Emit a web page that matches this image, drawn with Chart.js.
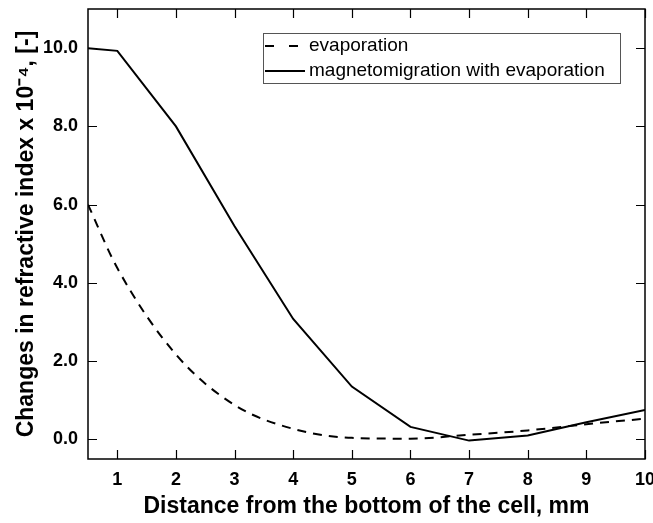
<!DOCTYPE html>
<html><head><meta charset="utf-8">
<script src="https://cdn.jsdelivr.net/npm/chart.js"></script>
<style>html,body{margin:0;padding:0;background:#fff}</style>
</head><body>
<canvas id="c" width="653" height="523"></canvas>
<script>
const xValues = [0.5, 1, 2, 3, 4, 5, 6, 7, 8, 9, 10];
const evaporation = [6.0, 4.38, 2.17, 0.88, 0.27, 0.04, 0.02, 0.12, 0.23, 0.39, 0.53];
const magnetoEvap = [10.0, 9.93, 8.0, 5.45, 3.08, 1.35, 0.32, -0.03, 0.1, 0.44, 0.75];
const xTicks = [1, 2, 3, 4, 5, 6, 7, 8, 9, 10];
const yTicks = [0, 2, 4, 6, 8, 10];
const seriesLabels = ['evaporation', 'magnetomigration with evaporation'];

const FONT = "'Liberation Sans', Arial, sans-serif";

const framePlugin = {
  id: 'frame',
  afterDraw(chart) {
    const ctx = chart.ctx, a = chart.chartArea;
    const xs = chart.scales.x, ys = chart.scales.y;
    ctx.save();
    ctx.strokeStyle = '#000';
    ctx.lineWidth = 1.5;
    ctx.strokeRect(a.left, a.top, a.right - a.left, a.bottom - a.top);
    const L = 9;
    ctx.beginPath();
    xTicks.forEach(v => {
      const px = Math.round(xs.getPixelForValue(v)) + 0.5;
      ctx.moveTo(px, a.bottom); ctx.lineTo(px, a.bottom - L);
      ctx.moveTo(px, a.top); ctx.lineTo(px, a.top + L);
    });
    yTicks.forEach(v => {
      const py = Math.round(ys.getPixelForValue(v)) + 0.5;
      ctx.moveTo(a.left, py); ctx.lineTo(a.left + L, py);
      ctx.moveTo(a.right, py); ctx.lineTo(a.right - L, py);
    });
    ctx.lineWidth = 1.2;
    ctx.stroke();
    // legend
    const bx = 263, by = 33, bw = 357, bh = 50;
    ctx.lineWidth = 1;
    ctx.strokeStyle = '#555';
    ctx.strokeRect(bx + 0.5, by + 0.5, bw, bh);
    const rows = [by + 13, by + 38];
    ctx.strokeStyle = '#000';
    ctx.lineWidth = 2;
    chart.data.datasets.forEach((ds, i) => {
      ctx.beginPath();
      if (ds.borderDash) {
        ctx.setLineDash([9, 15]);
        ctx.moveTo(bx + 2, rows[i]); ctx.lineTo(bx + 36, rows[i]);
      } else {
        ctx.moveTo(bx + 2, rows[i]); ctx.lineTo(bx + 42, rows[i]);
      }
      ctx.stroke();
      ctx.setLineDash([]);
      ctx.fillStyle = '#000';
      ctx.font = '19px ' + FONT;
      ctx.textBaseline = 'middle';
      ctx.textAlign = 'left';
      ctx.fillText(ds.label, bx + 46, rows[i]);
    });
    ctx.restore();
  }
};

new Chart(document.getElementById('c'), {
  type: 'line',
  data: {
    datasets: [
      {
        label: seriesLabels[0],
        data: xValues.map((x, i) => ({x, y: evaporation[i]})),
        borderColor: '#000', borderWidth: 2, borderDash: [9, 7],
        pointRadius: 0, cubicInterpolationMode: 'monotone', fill: false
      },
      {
        label: seriesLabels[1],
        data: xValues.map((x, i) => ({x, y: magnetoEvap[i]})),
        borderColor: '#000', borderWidth: 2,
        pointRadius: 0, tension: 0, fill: false
      }
    ]
  },
  options: {
    responsive: false,
    animation: false,
    layout: { padding: { left: 0, right: 8, top: 9, bottom: 0 } },
    plugins: { legend: { display: false }, tooltip: { enabled: false } },
    scales: {
      x: {
        type: 'linear', min: 0.5, max: 10,
        afterBuildTicks: s => { s.ticks = xTicks.map(v => ({value: v})); },
        afterFit: s => { s.height = 64; s.paddingLeft = 0; s.paddingRight = 0; },
        grid: { display: false, drawTicks: false },
        border: { display: false },
        ticks: { color: '#000', padding: 10, font: { family: FONT, size: 18, weight: 'bold' }, maxRotation: 0,
          callback: v => String(v) },
        title: { display: true, text: 'Distance from the bottom of the cell, mm', color: '#000',
          font: { family: FONT, size: 23, weight: 'bold' }, padding: { top: 8, bottom: 3 } }
      },
      y: {
        type: 'linear', min: -0.5, max: 11,
        afterBuildTicks: s => { s.ticks = yTicks.map(v => ({value: v})); },
        afterFit: s => { s.width = 88; s.paddingTop = 0; s.paddingBottom = 0; },
        grid: { display: false, drawTicks: false },
        border: { display: false },
        ticks: { color: '#000', padding: 10, font: { family: FONT, size: 18, weight: 'bold' },
          callback: v => v.toFixed(1) },
        title: { display: true, text: 'Changes in refractive index x 10\u207B\u2074, [-]', color: '#000',
          font: { family: FONT, size: 23, weight: 'bold' }, padding: { top: 13, bottom: 4 } }
      }
    }
  },
  plugins: [framePlugin]
});
</script>
</body></html>
